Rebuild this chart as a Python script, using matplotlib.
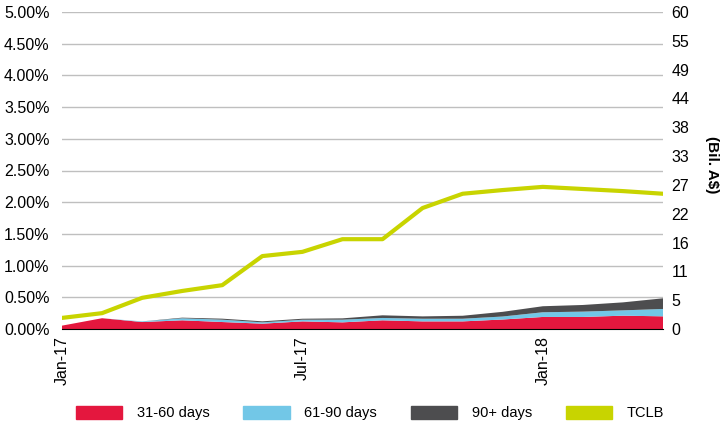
import numpy as np
import matplotlib
matplotlib.use('Agg')
from matplotlib import pyplot as plt
from matplotlib.patches import Patch
from matplotlib.ticker import FuncFormatter

plt.rcParams['font.family'] = ['Liberation Sans', 'DejaVu Sans']

months = ['Jan-17', 'Feb-17', 'Mar-17', 'Apr-17', 'May-17', 'Jun-17', 'Jul-17', 'Aug-17',
          'Sep-17', 'Oct-17', 'Nov-17', 'Dec-17', 'Jan-18', 'Feb-18', 'Mar-18', 'Apr-18']

# delinquency rates, % of balance
d31_60 = [0.053, 0.17, 0.11, 0.137, 0.11, 0.084, 0.12, 0.105,
          0.137, 0.12, 0.12, 0.15, 0.19, 0.19, 0.21, 0.20]
d61_90 = [0.0, 0.0, 0.01, 0.032, 0.037, 0.021, 0.026, 0.042,
          0.037, 0.042, 0.042, 0.047, 0.074, 0.084, 0.084, 0.116]
d90_plus = [0.0, 0.0, 0.0, 0.01, 0.016, 0.016, 0.016, 0.021,
            0.042, 0.037, 0.047, 0.074, 0.095, 0.105, 0.126, 0.168]

# total credit line balance, bil. A$
tclb = [2.1, 3.0, 5.9, 7.2, 8.3, 13.8, 14.6, 17.0,
        17.0, 22.9, 25.6, 26.3, 26.9, 26.5, 26.1, 25.6]

x_ticks = ['Jan-17', 'Jul-17', 'Jan-18']

red = '#E4173E'
blue = '#72C7E7'
dark = '#4D4D4F'
lime = '#C8D400'

fig = plt.figure(figsize=(7.2, 4.22), dpi=100)
ax = fig.add_axes([62 / 720, 1 - 329 / 422, (663 - 62) / 720, (329 - 12) / 422])

x = np.arange(len(months))
ax.stackplot(x, d31_60, d61_90, d90_plus, colors=[red, blue, dark], linewidth=0)

ax.set_xlim(0, len(months) - 1)
ax.set_ylim(0, 5.0)
ax.set_yticks(np.arange(0, 5.01, 0.5))
ax.yaxis.set_major_formatter(FuncFormatter(lambda v, p: f'{v:.2f}%'))
ax.grid(axis='y', color='#BFBFBF', linewidth=1)
ax.set_axisbelow(True)
for s in ['top', 'left', 'right']:
    ax.spines[s].set_visible(False)
ax.spines['bottom'].set_color('black')
ax.tick_params(axis='y', length=0, pad=9, labelsize=11.5)
ax.set_xticks([months.index(m) for m in x_ticks])
ax.set_xticklabels(x_ticks, rotation=90)
ax.tick_params(axis='x', length=0, pad=5, labelsize=11.5)

ax2 = ax.twinx()
ax2.plot(x, tclb, color=lime, linewidth=3)
ax2.set_ylim(0, 60)
ax2.set_yticks(np.linspace(0, 60, 12))
ax2.yaxis.set_major_formatter(FuncFormatter(lambda v, p: f'{v:.0f}'))
ax2.tick_params(axis='y', length=0, pad=6, labelsize=11.5)
for s in ['top', 'left', 'right', 'bottom']:
    ax2.spines[s].set_visible(False)
fig.text(712 / 720, 1 - 165 / 422, '(Bil. A$)', rotation=270, fontweight='bold',
         fontsize=11, ha='center', va='center')

handles = [Patch(color=red), Patch(color=blue), Patch(color=dark), Patch(color=lime)]
labels = ['31-60 days', '61-90 days', '90+ days', 'TCLB']
fig.legend(handles, labels, loc='center', bbox_to_anchor=(370 / 720, 1 - 413 / 422), ncol=4,
           frameon=False, fontsize=10.5, handlelength=3.2, handleheight=1.0,
           handletextpad=1.0, columnspacing=2.3)

fig.savefig('out.png', dpi=100)
